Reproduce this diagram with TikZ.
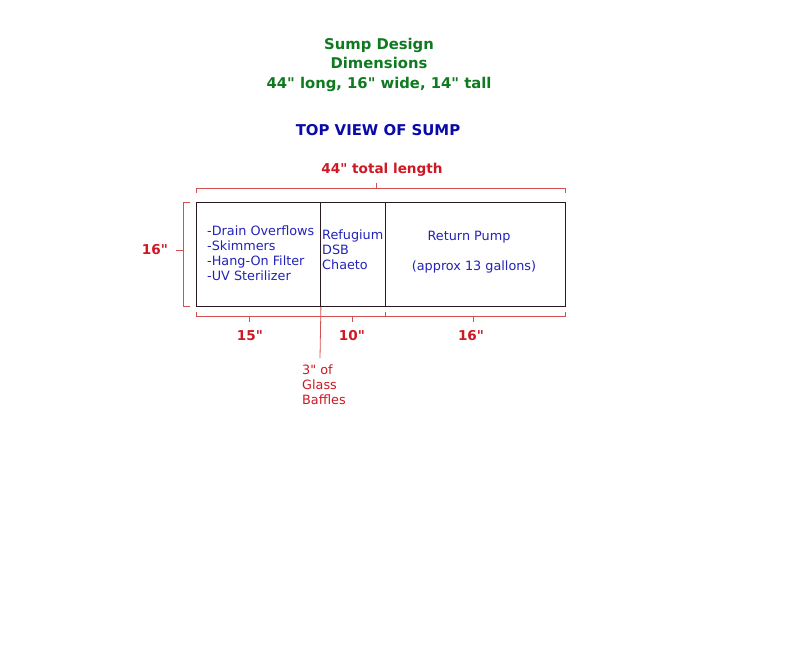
\documentclass[tikz,border=0pt]{standalone}
\usepackage{fontspec}
\setmainfont{DejaVu Sans}[Ligatures=TeXOff]
\usepackage{tikz}
\usetikzlibrary{calc}

\definecolor{sumpgreen}{RGB}{16,122,32}
\definecolor{viewblue}{RGB}{10,10,170}
\definecolor{textblue}{RGB}{35,35,185}
\definecolor{dimred}{RGB}{205,25,35}
\definecolor{linered}{RGB}{210,80,80}
\definecolor{edgedark}{RGB}{40,25,35}

\begin{document}
\begin{tikzpicture}[x=1pt,y=-1pt]
            \tikzset{heading/.style = {font=\bfseries\fontsize{14.8}{19.5}\selectfont, text=sumpgreen, align=center}}
            \tikzset{dimlabel/.style = {font=\bfseries\fontsize{13.6}{16}\selectfont, text=dimred}}
            \tikzset{zone/.style = {draw=edgedark, line width=0.9pt, minimum height=104pt, inner sep=0pt, anchor=north west}}
            \tikzset{zonetext/.style = {font=\fontsize{12.8}{15}\selectfont, text=textblue, align=left, inner sep=0pt}}
            \tikzset{dimline/.style = {draw=linered, line width=0.8pt}}

            \useasboundingbox[fill=white] (0,0) rectangle (800,649);

            % titles
            \node[heading] (title) at (379,64.5) {Sump Design\\Dimensions\\44" long, 16" wide, 14" tall};
            \node[font=\bfseries\fontsize{14.9}{18}\selectfont, text=viewblue] (view) at (378,130) {TOP VIEW OF SUMP};
            \node[dimlabel] (total) at (382,170) {44" total length};

            % compartments
            \node[zone, minimum width=124pt] (drain) at (196,202) {};
            \node[zone, minimum width=65pt] (refug) at (320,202) {};
            \node[zone, minimum width=180pt] (pump) at (385,202) {};

            \node[zonetext, anchor=north west] (drainlist) at (207,226) {-Drain Overflows\\-Skimmers\\-Hang-On Filter\\-UV Sterilizer};
            \node[zonetext, anchor=north west] (refuglist) at (322,230) {Refugium\\DSB\\Chaeto};
            \node[zonetext] (pumpname) at (469,237) {Return Pump};
            \node[zonetext] (pumpvol) at (474,267) {(approx 13 gallons)};

            % top dimension
            \coordinate (t1) at (196,193);
            \coordinate (t2) at (196,188);
            \coordinate (t3) at (565,188);
            \coordinate (t4) at (565,193);
            \coordinate (tm) at (376,188);
            \coordinate (tn) at (376,183);
            \draw[dimline] (t1) -- (t2) -- (t3) -- (t4);
            \draw[dimline] (tm) -- (tn);

            % width dimension
            \coordinate (l1) at (190,202);
            \coordinate (l2) at (183,202);
            \coordinate (l3) at (183,306);
            \coordinate (l4) at (190,306);
            \coordinate (lm) at (183,250);
            \coordinate (ln) at (176,250);
            \draw[dimline] (l1) -- (l2) -- (l3) -- (l4);
            \draw[dimline] (lm) -- (ln);
            \node[dimlabel] (width) at (155,250) {16"};

            % bottom dimensions
            \coordinate (b1) at (196,312);
            \coordinate (b2) at (196,316);
            \coordinate (b3) at (565,316);
            \coordinate (b4) at (565,312);
            \draw[dimline] (b1) -- (b2) -- (b3) -- (b4);
            \draw[dimline] (385,316) -- (385,312);
            \foreach \x in {249,352,473}
                \draw[dimline] (\x,316) -- (\x,322);
            \coordinate (baffle) at (320,358);
            \draw[dimline] (drain.south east) -- (baffle);

            \node[dimlabel] (lenA) at (250,336) {15"};
            \node[dimlabel] (lenB) at (352,336) {10"};
            \node[dimlabel] (lenC) at (471,336) {16"};
            \node[font=\fontsize{12.8}{15}\selectfont, text=dimred, align=left, anchor=north west, inner sep=0pt] (bafflenote) at (302,365) {3" of\\Glass\\Baffles};
          \end{tikzpicture}
\end{document}
